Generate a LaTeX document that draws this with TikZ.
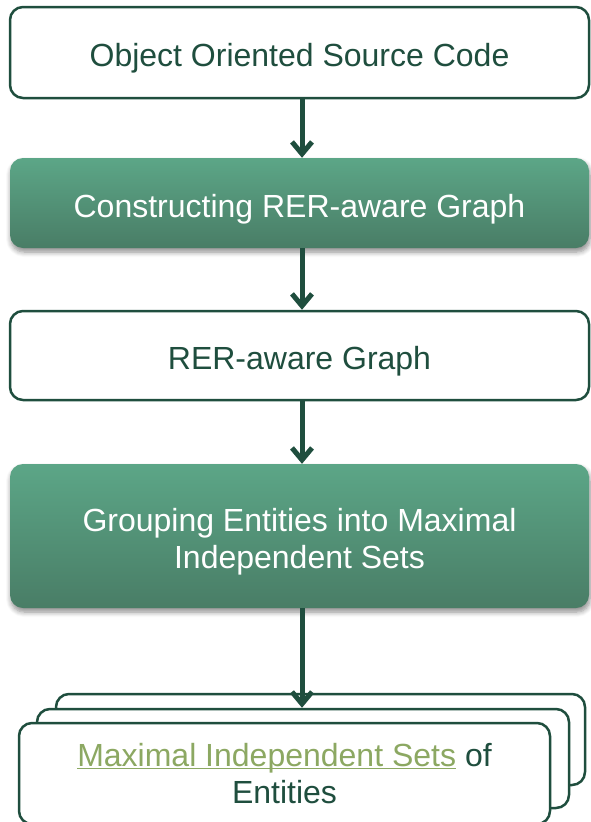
\documentclass[tikz,border=0pt]{standalone}
\usepackage{fontspec}
\setmainfont{Liberation Sans}
\usetikzlibrary{arrows.meta,shadows.blur}

\definecolor{darkgreen}{HTML}{1F4E3E}
\definecolor{greentop}{HTML}{5CA687}
\definecolor{greenbot}{HTML}{497D66}
\definecolor{linkgreen}{HTML}{8CA862}

% tall strut that lowers a first line of text a little in its box
\newcommand{\firstlinestrut}{\rule{0pt}{35pt}}

\tikzset{
  box/.style={rectangle, rounded corners=13pt, inner sep=0pt, align=center,
    font=\fontsize{32}{37}\selectfont},
  plainbox/.style={box, draw=darkgreen, line width=2.5pt, fill=white, text=darkgreen},
  stepbox/.style={box, top color=greentop, bottom color=greenbot, text=white,
    blur shadow={shadow xshift=1pt, shadow yshift=-4pt, shadow blur steps=6,
      shadow opacity=45, shadow blur radius=5pt}},
  flow/.style={draw=darkgreen, line width=5pt,
    -{Straight Barb[length=12pt, width=20pt, line width=5pt]}},
}

\begin{document}
\begin{tikzpicture}[x=1pt, y=-1pt]
  \useasboundingbox (0,0) rectangle (590,822);

  % main flow
  \node[plainbox, minimum width=579pt, minimum height=91pt] (src) at (299.5,52.5)
    {\firstlinestrut Object Oriented Source Code};
  \node[stepbox, minimum width=579pt, minimum height=90pt] (build) at (299.5,203)
    {\firstlinestrut Constructing RER-aware Graph};
  \node[plainbox, minimum width=579pt, minimum height=89pt] (graph) at (299.5,355.5)
    {\firstlinestrut RER-aware Graph};
  \node[stepbox, minimum width=579pt, minimum height=144pt] (group) at (299.5,536)
    {\firstlinestrut Grouping Entities into Maximal\\Independent Sets};

  % stacked result documents
  \node[plainbox, minimum width=529pt, minimum height=91pt] (setsback) at (320.5,739.5) {};
  \node[plainbox, minimum width=532pt, minimum height=99pt] (setsmid) at (303,758.5) {};
  \node[plainbox, minimum width=531pt, minimum height=101pt] (sets) at (284.5,773.5)
    {{\color{linkgreen}\underbar{Maximal Independent Sets}} of\\Entities};

  % connectors
  \draw[flow] ([xshift=2.5pt]src.south) -- ([xshift=2.5pt]build.north);
  \draw[flow] ([xshift=2.5pt]build.south) -- ([xshift=2.5pt]graph.north);
  \draw[flow] ([xshift=2.5pt]graph.south) -- ([xshift=2.5pt]group.north);
  \draw[flow] ([xshift=2.5pt]group.south) -- ([xshift=-1pt]setsmid.north);
\end{tikzpicture}
\end{document}
